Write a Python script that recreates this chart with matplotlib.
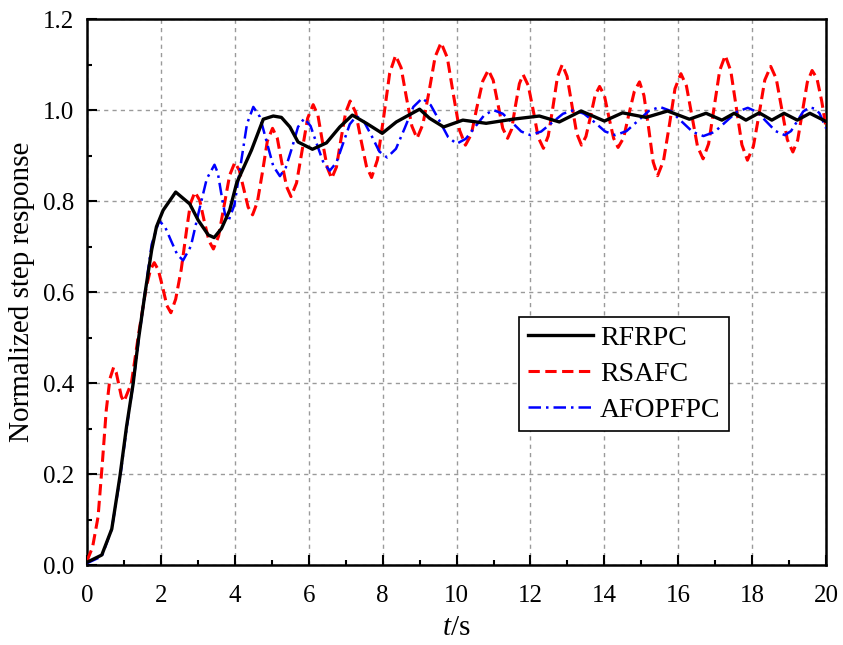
import matplotlib.pyplot as plt
from matplotlib.ticker import MultipleLocator

plt.rcParams['font.family'] = ['Liberation Serif', 'DejaVu Serif']
plt.rcParams['mathtext.fontset'] = 'custom'
plt.rcParams['mathtext.it'] = 'Liberation Serif:italic'
plt.rcParams['mathtext.rm'] = 'Liberation Serif'

# RFRPC (black, solid)
t_rfrpc = [0.0, 0.4, 0.67, 0.89, 1.07, 1.25, 1.39, 1.57, 1.75, 1.88, 2.06, 2.40,
           2.78, 3.01, 3.28, 3.44, 3.64, 3.86, 4.05, 4.45, 4.77, 5.04, 5.26, 5.49,
           5.71, 6.10, 6.48, 6.84, 7.18, 7.56, 7.99, 8.37, 9.0, 9.27, 9.65, 10.17,
           10.8, 11.52, 12.24, 12.78, 13.37, 14.0, 14.49, 15.13, 15.71, 16.30, 16.75,
           17.18, 17.51, 17.83, 18.19, 18.53, 18.86, 19.22, 19.56, 20.0]
y_rfrpc = [0.007, 0.023, 0.08, 0.195, 0.305, 0.40, 0.495, 0.598, 0.693, 0.744, 0.78, 0.82,
           0.794, 0.758, 0.726, 0.72, 0.74, 0.78, 0.84, 0.912, 0.98, 0.987, 0.984, 0.963,
           0.93, 0.914, 0.928, 0.963, 0.989, 0.971, 0.949, 0.974, 1.002, 0.982, 0.963, 0.978,
           0.971, 0.98, 0.987, 0.974, 0.998, 0.976, 0.994, 0.984, 0.998, 0.98, 0.993,
           0.978, 0.993, 0.978, 0.994, 0.978, 0.993, 0.978, 0.993, 0.975]

# RSAFC (red, dashed)
t_rsafc = [0.0, 0.15, 0.3, 0.42, 0.52, 0.62, 0.72, 0.79, 0.86, 0.93, 1.0,
           1.2, 1.4, 1.6, 1.72, 1.82, 1.93, 2.05, 2.16, 2.27,
           2.4, 2.55, 2.7, 2.8, 2.92, 3.05, 3.17, 3.3, 3.42,
           3.56, 3.71, 3.86, 4.0, 4.12, 4.24, 4.36, 4.48,
           4.61, 4.75, 4.88, 5.02, 5.15, 5.27, 5.4, 5.52,
           5.67, 5.82, 5.97, 6.12, 6.25, 6.37, 6.5, 6.62,
           6.75, 6.87, 7.0, 7.12, 7.27, 7.41, 7.56, 7.7,
           7.86, 8.03, 8.19, 8.35, 8.5, 8.64, 8.79, 8.93,
           9.09, 9.26, 9.42, 9.58, 9.75, 9.91, 10.08, 10.24,
           10.4, 10.55, 10.71, 10.86, 10.99, 11.12, 11.25, 11.38,
           11.49, 11.59, 11.7, 11.8, 11.94, 12.08, 12.21, 12.35,
           12.48, 12.61, 12.73, 12.86, 12.99, 13.12, 13.25, 13.38,
           13.5, 13.63, 13.75, 13.87, 14.0, 14.12, 14.25, 14.37,
           14.52, 14.66, 14.81, 14.95, 15.07, 15.2, 15.32, 15.44,
           15.6, 15.76, 15.91, 16.07, 16.22, 16.37, 16.52, 16.67,
           16.82, 16.97, 17.12, 17.27, 17.42, 17.57, 17.72, 17.87,
           18.03, 18.19, 18.34, 18.5, 18.65, 18.8, 18.95, 19.1,
           19.23, 19.36, 19.49, 19.62, 19.75, 19.88, 20.0]
y_rsafc = [0.01, 0.04, 0.107, 0.23, 0.34, 0.41, 0.435, 0.424, 0.398, 0.371, 0.36,
           0.40, 0.51, 0.61, 0.65, 0.665, 0.649, 0.61, 0.571, 0.555,
           0.585, 0.65, 0.74, 0.795, 0.82, 0.802, 0.757, 0.713, 0.695,
           0.723, 0.79, 0.857, 0.885, 0.868, 0.828, 0.787, 0.77,
           0.798, 0.865, 0.932, 0.96, 0.938, 0.885, 0.832, 0.81,
           0.84, 0.911, 0.982, 1.012, 0.988, 0.931, 0.874, 0.85,
           0.875, 0.935, 0.995, 1.02, 0.995, 0.936, 0.877, 0.852,
           0.891, 0.986, 1.081, 1.12, 1.093, 1.029, 0.965, 0.938,
           0.969, 1.043, 1.117, 1.148, 1.115, 1.036, 0.956, 0.923,
           0.947, 1.006, 1.064, 1.088, 1.066, 1.013, 0.96, 0.938,
           0.958, 1.008, 1.058, 1.078, 1.054, 0.997, 0.94, 0.916,
           0.943, 1.008, 1.073, 1.10, 1.074, 1.012, 0.949, 0.923,
           0.942, 0.988, 1.033, 1.052, 1.032, 0.985, 0.938, 0.918,
           0.939, 0.99, 1.041, 1.062, 1.032, 0.959, 0.886, 0.856,
           0.889, 0.968, 1.047, 1.08, 1.053, 0.987, 0.92, 0.893,
           0.926, 1.007, 1.087, 1.12, 1.086, 1.005, 0.924, 0.89,
           0.92, 0.993, 1.066, 1.096, 1.069, 1.002, 0.935, 0.908,
           0.934, 0.998, 1.061, 1.087, 1.07, 1.02, 0.96]

# AFOPFPC (blue, dash-dot)
t_afopfpc = [0.0, 0.4, 0.67, 0.89, 1.07, 1.25, 1.39, 1.57, 1.75, 1.95,
             2.11, 2.27, 2.44, 2.6, 2.81, 3.02, 3.24, 3.45,
             3.54, 3.63, 3.73, 3.82, 3.99, 4.16, 4.33, 4.5,
             4.68, 4.86, 5.04, 5.22, 5.38, 5.55, 5.71, 5.88,
             6.05, 6.22, 6.4, 6.57, 6.75, 6.93, 7.11, 7.29,
             7.5, 7.71, 7.91, 8.12, 8.36, 8.6, 8.83, 9.07,
             9.3, 9.54, 9.77, 10.0, 10.25, 10.5, 10.75, 11.0,
             11.25, 11.5, 11.75, 12.0, 12.29, 12.59, 12.88, 13.17,
             13.45, 13.74, 14.02, 14.3, 14.6, 14.9, 15.2, 15.5,
             15.8, 16.09, 16.39, 16.68, 16.98, 17.28, 17.58, 17.88,
             18.13, 18.38, 18.63, 18.88, 19.05, 19.22, 19.38, 19.55,
             19.7, 19.82, 20.0]
y_afopfpc = [0.005, 0.02, 0.08, 0.19, 0.30, 0.40, 0.49, 0.60, 0.705, 0.757,
             0.744, 0.714, 0.683, 0.67, 0.701, 0.775, 0.849, 0.88,
             0.862, 0.818, 0.773, 0.755, 0.792, 0.881, 0.97, 1.007,
             0.985, 0.931, 0.877, 0.855, 0.874, 0.918, 0.963, 0.982,
             0.965, 0.925, 0.884, 0.867, 0.885, 0.927, 0.969, 0.987,
             0.974, 0.942, 0.909, 0.896, 0.915, 0.961, 1.007, 1.026,
             1.011, 0.976, 0.941, 0.926, 0.937, 0.963, 0.989, 1.0,
             0.992, 0.973, 0.953, 0.945, 0.953, 0.973, 0.992, 1.0,
             0.992, 0.973, 0.953, 0.945, 0.954, 0.976, 0.998, 1.007,
             0.998, 0.975, 0.952, 0.943, 0.952, 0.974, 0.996, 1.005,
             0.996, 0.975, 0.954, 0.945, 0.954, 0.976, 0.997, 1.006,
             1.003, 0.993, 0.96]

fig = plt.figure(figsize=(8.43, 6.45), dpi=100)
ax = fig.add_axes([0.1032, 0.1233, 0.8768, 0.8472])

ax.plot(t_rfrpc, y_rfrpc, color='black', lw=2.4, label='RFRPC', zorder=4)
ax.plot(t_rsafc, y_rsafc, color='red', lw=2.2, linestyle=(0, (3.7, 1.8)), label='RSAFC', zorder=3)
ax.plot(t_afopfpc, y_afopfpc, color='blue', lw=1.8, linestyle=(0, (5, 2, 1, 2)), label='AFOPFPC', zorder=3)

ax.set_xlim(0, 20)
ax.set_ylim(0, 1.2)
ax.xaxis.set_major_locator(MultipleLocator(2))
ax.xaxis.set_minor_locator(MultipleLocator(1))
ax.yaxis.set_major_locator(MultipleLocator(0.2))
ax.yaxis.set_minor_locator(MultipleLocator(0.1))
ax.yaxis.set_major_formatter(plt.FormatStrFormatter('%.1f'))

ax.tick_params(which='both', direction='in', width=1.5, labelsize=18)
ax.tick_params(which='major', length=7.5)
ax.tick_params(which='minor', length=3.6)
ax.tick_params(axis='x', pad=14)
ax.tick_params(axis='y', pad=9)
for s in ax.spines.values():
    s.set_linewidth(1.8)

ax.grid(True, which='major', color='#9a9a9a', linestyle=(0, (3, 3)), lw=1.0)

ax.set_xlabel('$t$/s', fontsize=21, labelpad=6)
ax.set_ylabel('Normalized step response', fontsize=21, labelpad=6)

leg = ax.legend(loc='upper left', bbox_to_anchor=(0.585, 0.455), fontsize=20,
                frameon=True, fancybox=False, edgecolor='black', framealpha=1,
                handlelength=2.35, borderaxespad=0, borderpad=0.3,
                labelspacing=0.38, handletextpad=0.25)
leg.get_frame().set_linewidth(1.2)

plt.savefig('out.png', dpi=100)
